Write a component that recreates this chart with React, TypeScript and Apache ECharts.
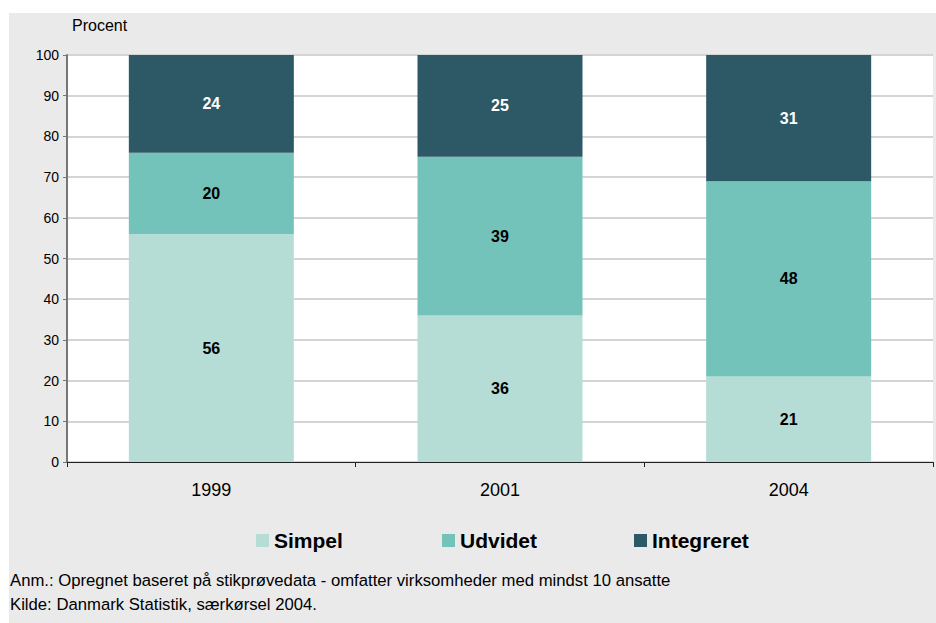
import React, { useEffect, useRef } from "react";
import * as echarts from "echarts";

const categories = ["1999", "2001", "2004"];
const simpel = [56, 36, 21];
const udvidet = [20, 39, 48];
const integreret = [24, 25, 31];
const seriesNames = ["Simpel", "Udvidet", "Integreret"];
const seriesColors = ["#b5ddd6", "#74c3bb", "#2d5866"];
const labelColors = ["#000000", "#000000", "#ffffff"];
const yAxisName = "Procent";
const noteLines = [
  "Anm.: Opregnet baseret på stikprøvedata - omfatter virksomheder med mindst 10 ansatte",
  "Kilde: Danmark Statistik, særkørsel 2004.",
];

const FONT = "'Liberation Sans', Arial, Helvetica, sans-serif";

export default function App() {
  const ref = useRef<HTMLDivElement>(null);
  useEffect(() => {
    document.body.style.margin = "0";
    if (!ref.current) return;
    const chart = echarts.init(ref.current, undefined, { renderer: "svg" });
    const values = [simpel, udvidet, integreret];
    const legendLeft = [256, 442, 634];
    chart.setOption({
      animation: false,
      backgroundColor: "#ffffff",
      textStyle: { fontFamily: FONT },
      graphic: [
        {
          type: "rect",
          z: -10,
          shape: { x: 9, y: 13, width: 927, height: 610 },
          style: { fill: "#eaeaea" },
          silent: true,
        },
        {
          type: "text",
          left: 72,
          top: 17,
          style: { text: yAxisName, font: `16px ${FONT}`, fill: "#000" },
        },
        ...noteLines.map((t, i) => ({
          type: "text",
          left: 10,
          top: 572 + i * 24,
          style: { text: t, font: `16.7px ${FONT}`, fill: "#000" },
        })),
      ],
      grid: {
        left: 67,
        top: 55,
        width: 866,
        height: 407,
        show: true,
        backgroundColor: "#ffffff",
        borderWidth: 0,
      },
      legend: seriesNames.map((n, i) => ({
        data: [n],
        left: legendLeft[i],
        top: 530,
        padding: 0,
        itemWidth: 13,
        itemHeight: 13,
        icon: "rect",
        textStyle: { fontFamily: FONT, fontSize: 21, fontWeight: "bold", color: "#000" },
      })),
      xAxis: {
        type: "category",
        data: categories,
        axisLine: { show: true, lineStyle: { color: "#222", width: 1 } },
        axisTick: { show: true, alignWithLabel: false, length: 5, lineStyle: { color: "#222" } },
        axisLabel: { fontFamily: FONT, fontSize: 18, color: "#000", margin: 19 },
        splitLine: { show: false },
      },
      yAxis: {
        type: "value",
        min: 0,
        max: 100,
        interval: 10,
        axisLine: { show: true, lineStyle: { color: "#777", width: 2 } },
        axisTick: { show: true, length: 4, lineStyle: { color: "#777" } },
        axisLabel: { fontFamily: FONT, fontSize: 14, color: "#000", margin: 8 },
        splitLine: { show: true, lineStyle: { color: "#d4d4d4", width: 2 } },
      },
      series: seriesNames.map((n, i) => ({
        name: n,
        type: "bar",
        stack: "total",
        data: values[i],
        barWidth: 165,
        itemStyle: { color: seriesColors[i] },
        label: {
          show: true,
          position: "inside",
          color: labelColors[i],
          fontFamily: FONT,
          fontWeight: "bold",
          fontSize: 16,
        },
      })),
    });
    return () => chart.dispose();
  }, []);
  return <div ref={ref} style={{ width: 936, height: 623 }} />;
}
